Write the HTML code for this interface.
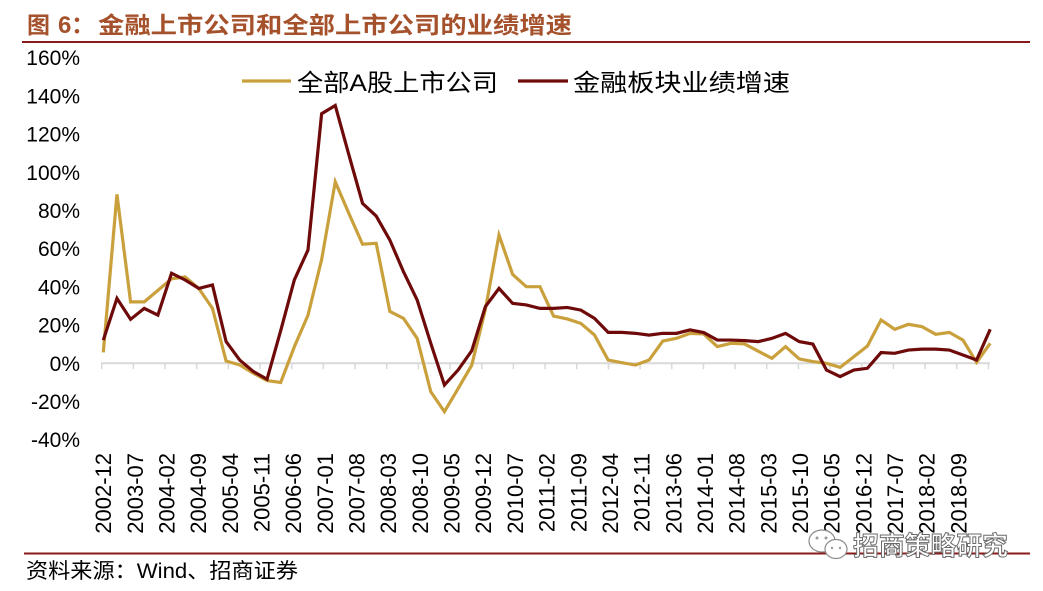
<!DOCTYPE html>
<html>
<head>
<meta charset="utf-8">
<style>
  html, body { margin: 0; padding: 0; background: #ffffff; }
  body { width: 1043px; height: 591px; overflow: hidden; }
  svg { display: block; }
  .ylab { font-family: "Liberation Sans", sans-serif; font-size: 21px; fill: #000; }
  .xlab { font-family: "Liberation Sans", sans-serif; font-size: 22px; fill: #000; }
  .cjk { font-family: "Liberation Sans", "Noto Sans CJK SC", sans-serif; }
</style>
</head>
<body>
<svg width="1043" height="591" viewBox="0 0 1043 591" xmlns="http://www.w3.org/2000/svg">
  <rect width="1043" height="591" fill="#ffffff"/>

  <!-- Title -->
  <text x="27" y="33" font-family="Noto Sans CJK SC, sans-serif" font-size="23" font-weight="bold" fill="#A5512B">图</text>
  <text x="58" y="33" font-family="Liberation Sans, sans-serif" font-size="24" font-weight="bold" fill="#A5512B">6</text>
  <text x="71" y="33" font-family="Noto Sans CJK SC, sans-serif" font-size="24" font-weight="bold" fill="#A5512B">：</text>
  <text x="98" y="33" font-family="Noto Sans CJK SC, sans-serif" font-size="23" font-weight="bold" fill="#A5512B" textLength="474" lengthAdjust="spacingAndGlyphs">金融上市公司和全部上市公司的业绩增速</text>
  <line x1="22" y1="42" x2="1030" y2="42" stroke="#8B1A1A" stroke-width="2"/>

  <!-- Y axis labels -->
  <g class="ylab" text-anchor="end">
    <text x="80" y="65.2">160%</text>
    <text x="80" y="103.4">140%</text>
    <text x="80" y="141.6">120%</text>
    <text x="80" y="179.8">100%</text>
    <text x="80" y="218">80%</text>
    <text x="80" y="256.2">60%</text>
    <text x="80" y="294.4">40%</text>
    <text x="80" y="332.6">20%</text>
    <text x="80" y="370.8">0%</text>
    <text x="80" y="409">-20%</text>
    <text x="80" y="447.2">-40%</text>
  </g>

  <!-- X axis line and ticks -->
  <line x1="101" y1="363.3" x2="990" y2="363.3" stroke="#D9D9D9" stroke-width="2"/>
  <path stroke="#D9D9D9" stroke-width="1.5" fill="none"
    d="M101.7 363.3v6 M133.37 363.3v6 M165.04 363.3v6 M196.71 363.3v6 M228.38 363.3v6 M260.05 363.3v6 M291.72 363.3v6 M323.39 363.3v6 M355.06 363.3v6 M386.73 363.3v6 M418.4 363.3v6 M450.07 363.3v6 M481.74 363.3v6 M513.41 363.3v6 M545.08 363.3v6 M576.75 363.3v6 M608.42 363.3v6 M640.09 363.3v6 M671.76 363.3v6 M703.43 363.3v6 M735.1 363.3v6 M766.77 363.3v6 M798.44 363.3v6 M830.11 363.3v6 M861.78 363.3v6 M893.45 363.3v6 M925.12 363.3v6 M956.79 363.3v6 M988.46 363.3v6"/>

  <!-- Series -->
  <g transform="translate(103.3 363.3) scale(13.645 -1.92)">
    <polyline fill="none" stroke="#C9A03C" stroke-width="3.2" stroke-linejoin="miter" vector-effect="non-scaling-stroke"
      points="0,5.7 1,88 2,32 3,32 4,38 5,44 6,45 7,39 8,28.6 9,1.2 10,-0.9 11,-5.2 12,-9 13,-10 14,8.6 15,25 16,54 17,94.5 18,78 19,62 20,62.5 21,27 22,23.4 23,13 24,-14.8 25,-25.2 26,-13.2 27,-1 28,28 29,66.8 30,46.3 31,39.9 32,39.9 33,24.6 34,23.1 35,20.8 36,14.7 37,1.7 38,0.3 39,-0.9 40,1.7 41,11.6 42,13 43,15.6 44,15.3 45,8.7 46,10.4 47,10.1 48,6.3 49,2.6 50,8.7 51,2.3 52,0.9 53,0 54,-2.1 55,3.4 56,9 57,22.6 58,17.7 59,20.3 60,19.1 61,15.1 62,16.1 63,12.1 64,0.5 65,10.4"/>
    <polyline fill="none" stroke="#6E0A0A" stroke-width="3.2" stroke-linejoin="miter" vector-effect="non-scaling-stroke"
      points="0,12.1 1,33.8 2,22.9 3,28.6 4,25.1 5,46.9 6,43.4 7,39 8,40.8 9,11.3 10,1.7 11,-4.3 12,-8.3 13,17 14,43.4 15,59 16,130 17,134.3 18,108.5 19,83.3 20,76.7 21,64.2 22,47.7 23,33 24,10.4 25,-11.3 26,-3.5 27,6.5 28,29.5 29,39 30,31.2 31,30.4 32,28.6 33,28.6 34,29.1 35,27.7 36,23.4 37,16.1 38,16.1 39,15.6 40,14.7 41,15.6 42,15.6 43,17.4 44,16 45,12.1 46,12.1 47,11.8 48,11.3 49,13 50,15.6 51,11.3 52,10 53,-3.5 54,-6.9 55,-3.5 56,-2.6 57,5.6 58,5.2 59,6.9 60,7.4 61,7.4 62,6.9 63,4.3 64,1.7 65,17.7"/>
  </g>

  <!-- Legend -->
  <line x1="242" y1="81" x2="291" y2="81" stroke="#C9A03C" stroke-width="3.2"/>
  <text x="297" y="91" font-family="Liberation Sans, Noto Sans CJK SC, sans-serif" font-size="24" fill="#000" textLength="201" lengthAdjust="spacingAndGlyphs">全部A股上市公司</text>
  <line x1="518" y1="81" x2="568" y2="81" stroke="#6E0A0A" stroke-width="3.2"/>
  <text x="573" y="91" font-family="Noto Sans CJK SC, sans-serif" font-size="24" fill="#000" textLength="217" lengthAdjust="spacingAndGlyphs">金融板块业绩增速</text>

  <!-- X axis labels -->
  <g class="xlab" text-anchor="end">
    <text transform="translate(111.2 453) rotate(-90)">2002-12</text>
    <text transform="translate(142.9 453) rotate(-90)">2003-07</text>
    <text transform="translate(174.5 453) rotate(-90)">2004-02</text>
    <text transform="translate(206.2 453) rotate(-90)">2004-09</text>
    <text transform="translate(237.9 453) rotate(-90)">2005-04</text>
    <text transform="translate(269.6 453) rotate(-90)">2005-11</text>
    <text transform="translate(301.2 453) rotate(-90)">2006-06</text>
    <text transform="translate(332.9 453) rotate(-90)">2007-01</text>
    <text transform="translate(364.6 453) rotate(-90)">2007-08</text>
    <text transform="translate(396.2 453) rotate(-90)">2008-03</text>
    <text transform="translate(427.9 453) rotate(-90)">2008-10</text>
    <text transform="translate(459.6 453) rotate(-90)">2009-05</text>
    <text transform="translate(491.2 453) rotate(-90)">2009-12</text>
    <text transform="translate(522.9 453) rotate(-90)">2010-07</text>
    <text transform="translate(554.6 453) rotate(-90)">2011-02</text>
    <text transform="translate(586.3 453) rotate(-90)">2011-09</text>
    <text transform="translate(617.9 453) rotate(-90)">2012-04</text>
    <text transform="translate(649.6 453) rotate(-90)">2012-11</text>
    <text transform="translate(681.3 453) rotate(-90)">2013-06</text>
    <text transform="translate(712.9 453) rotate(-90)">2014-01</text>
    <text transform="translate(744.6 453) rotate(-90)">2014-08</text>
    <text transform="translate(776.3 453) rotate(-90)">2015-03</text>
    <text transform="translate(807.9 453) rotate(-90)">2015-10</text>
    <text transform="translate(839.6 453) rotate(-90)">2016-05</text>
    <text transform="translate(871.3 453) rotate(-90)">2016-12</text>
    <text transform="translate(903 453) rotate(-90)">2017-07</text>
    <text transform="translate(934.6 453) rotate(-90)">2018-02</text>
    <text transform="translate(966.3 453) rotate(-90)">2018-09</text>
  </g>

  <!-- Bottom rule -->
  <line x1="24" y1="553.5" x2="1030" y2="553.5" stroke="#8B1A1A" stroke-width="2"/>

  <!-- Watermark -->
  <g fill="#ffffff" stroke="#8a8a8a" stroke-width="1.2">
    <ellipse cx="822" cy="541" rx="13" ry="11"/>
    <ellipse cx="836" cy="549" rx="11" ry="9.5"/>
  </g>
  <g fill="#9a9a9a">
    <circle cx="817" cy="538" r="1.5"/>
    <circle cx="826" cy="538" r="1.5"/>
    <circle cx="832" cy="548" r="1.2"/>
    <circle cx="840" cy="548" r="1.2"/>
  </g>
  <text x="853" y="555" font-family="Noto Sans CJK SC, sans-serif" font-size="26" font-weight="bold" fill="#ffffff" stroke="#6a6a6a" stroke-width="1" textLength="155" lengthAdjust="spacingAndGlyphs">招商策略研究</text>

  <!-- Source -->
  <text x="26" y="578" font-family="Liberation Sans, Noto Sans CJK SC, sans-serif" font-size="21" fill="#000" textLength="272" lengthAdjust="spacingAndGlyphs">资料来源：Wind、招商证券</text>
</svg>
</body>
</html>
